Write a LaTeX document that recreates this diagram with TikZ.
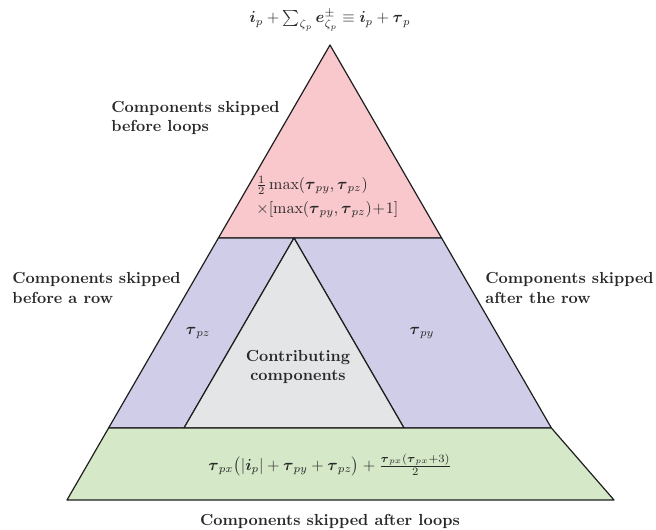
\documentclass[tikz,border=0pt]{standalone}
\usepackage{amsmath, amssymb}
\usepackage{xcolor}
\usepackage{tikz}
\usetikzlibrary{calc}
\definecolor{loopred}{RGB}{248, 200, 204}
\definecolor{rowblue}{RGB}{207, 205, 232}
\definecolor{coregray}{RGB}{228, 229, 231}
\definecolor{aftergreen}{RGB}{213, 232, 200}
\definecolor{edgegray}{RGB}{30, 30, 30}
\definecolor{inkgray}{RGB}{40, 40, 40}

\begin{document}
\begin{tikzpicture}[
    x=0.625pt, y=-0.625pt,
    region/.style={draw=edgegray, line width=0.75pt, line join=round},
    caption/.style={font=\bfseries, text=inkgray, align=left, inner sep=0pt},
    formula/.style={text=inkgray, inner sep=0pt}
]
    \useasboundingbox (0,0) rectangle (656,530);

    % corner points
    \coordinate (apex) at (330, 45);
    \coordinate (rl) at (218.4, 238);
    \coordinate (rr) at (441.6, 238);
    \coordinate (mid) at (294, 238);
    \coordinate (gl) at (108.6, 428);
    \coordinate (gr) at (551.4, 428);
    \coordinate (cl) at (184, 428);
    \coordinate (cr) at (404, 428);
    \coordinate (bl) at (67, 500);
    \coordinate (br) at (614, 500);

    % regions
    \filldraw[region, fill=loopred] (apex) -- (rr) -- (rl) -- cycle;
    \filldraw[region, fill=rowblue] (rl) -- (mid) -- (cl) -- (gl) -- cycle;
    \filldraw[region, fill=rowblue] (mid) -- (rr) -- (gr) -- (cr) -- cycle;
    \filldraw[region, fill=coregray] (mid) -- (cr) -- (cl) -- cycle;
    \filldraw[region, fill=aftergreen] (gl) -- (gr) -- (br) -- (bl) -- cycle;

    % outside labels
    \node[formula] (total) at (330, 20)
        {$\boldsymbol{i}_p + \sum_{\zeta_p} \boldsymbol{e}^{\pm}_{\zeta_p} \equiv \boldsymbol{i}_p + \boldsymbol{\tau}_p$};
    \node[caption, anchor=west] (before) at (111, 118) {Components skipped\\before loops};
    \node[caption, anchor=west] (rowbefore) at (12, 288) {Components skipped\\before a row};
    \node[caption, anchor=west] (rowafter) at (485, 288) {Components skipped\\after the row};
    \node[caption] (after) at (330, 521) {Components skipped after loops};

    % inside labels
    \node[formula, anchor=west, align=left] (redtxt) at (256, 197)
        {$\tfrac{1}{2}\max(\boldsymbol{\tau}_{py},\boldsymbol{\tau}_{pz})$\\[3pt]
         $\times[\max(\boldsymbol{\tau}_{py},\boldsymbol{\tau}_{pz})\!+\!1]$};
    \node[formula] (pz) at (198, 333) {$\boldsymbol{\tau}_{pz}$};
    \node[formula] (py) at (422, 333) {$\boldsymbol{\tau}_{py}$};
    \node[caption, align=center] (core) at (298, 367) {Contributing\\components};
    \node[formula] (greentxt) at (330, 465)
        {$\boldsymbol{\tau}_{px}\bigl(|\boldsymbol{i}_p| + \boldsymbol{\tau}_{py} + \boldsymbol{\tau}_{pz}\bigr) + \tfrac{\boldsymbol{\tau}_{px}(\boldsymbol{\tau}_{px}+3)}{2}$};

\end{tikzpicture}
\end{document}
